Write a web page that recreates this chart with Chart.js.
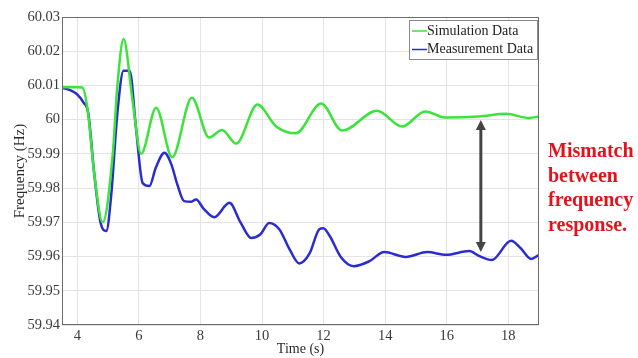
<!DOCTYPE html>
<html>
<head>
<meta charset="utf-8">
<script src="https://cdn.jsdelivr.net/npm/chart.js@4.4.1/dist/chart.umd.min.js"></script>
<style>
  html, body { margin: 0; padding: 0; background: #fff; }
  #wrap { position: relative; width: 638px; height: 358px; }
  #note {
    position: absolute; left: 548px; top: 138px;
    font: bold 20px 'Liberation Serif', 'Times New Roman', serif;
    line-height: 24.5px; color: #e3121c;
  }
</style>
</head>
<body>
<div id="wrap">
  <canvas id="chartCanvas" width="638" height="358"></canvas>
  <div id="note">Mismatch<br>between<br>frequency<br>response.</div>
</div>
<script>
// values
let simTime = [3.5, 4.0, 4.16, 4.33, 4.55, 4.82, 5.15, 5.3, 5.5, 5.8, 6.07, 6.56, 7.08, 7.72, 8.28, 8.7, 9.16, 9.85, 10.46, 11.1, 11.92, 12.6, 13.74, 14.55, 15.3, 15.98, 17.05, 17.93, 18.67, 19.0];
let simFreq = [60.0095, 60.0095, 60.0094, 60.003, 59.984, 59.970, 59.990, 60.010, 60.0236, 60.005, 59.990, 60.0035, 59.989, 60.0064, 59.9948, 59.997, 59.993, 60.0044, 59.998, 59.996, 60.0047, 59.9968, 60.0026, 59.998, 60.0024, 60.0006, 60.0009, 60.0017, 60.0005, 60.0009];

let measTime = [3.5, 3.8, 4.0, 4.2, 4.35, 4.55, 4.75, 4.94, 5.1, 5.3, 5.5, 5.7, 5.9, 6.12, 6.34, 6.55, 6.83, 7.05, 7.25, 7.47, 7.7, 7.86, 8.1, 8.45, 8.94, 9.3, 9.65, 9.95, 10.23, 10.56, 10.9, 11.21, 11.55, 11.86, 11.99, 12.2, 12.56, 12.98, 13.48, 13.97, 14.67, 15.37, 15.98, 16.73, 17.05, 17.47, 18.09, 18.4, 18.74, 19.0];
let measFreq = [60.0093, 60.0085, 60.0073, 60.005, 60.002, 59.984, 59.970, 59.9675, 59.978, 60.002, 60.0143, 60.0143, 59.998, 59.9815, 59.9806, 59.986, 59.9903, 59.987, 59.981, 59.9762, 59.976, 59.9767, 59.974, 59.9715, 59.9757, 59.970, 59.9654, 59.9665, 59.9698, 59.968, 59.962, 59.958, 59.961, 59.968, 59.9683, 59.966, 59.9599, 59.9572, 59.9586, 59.9613, 59.9599, 59.9613, 59.9605, 59.9616, 59.9602, 59.959, 59.9646, 59.9625, 59.9593, 59.9605];

let xTicks = [4, 6, 8, 10, 12, 14, 16, 18];
let yTicks = [59.94, 59.95, 59.96, 59.97, 59.98, 59.99, 60, 60.01, 60.02, 60.03];

// mismatch arrow (time, top freq, bottom freq)
let arrowTime = 17.11;
let arrowTop = 59.9999;
let arrowBottom = 59.9613;

const serif = "'Liberation Serif', 'Times New Roman', serif";

function toPoints(xs, ys) {
    return xs.map((x, i) => ({ x: x, y: ys[i] }));
}

let extras = {
    id: 'extras',
    afterDatasetsDraw(chart) {
        const ctx = chart.ctx;
        const a = chart.chartArea;
        const xs = chart.scales.x;
        const ys = chart.scales.y;

        // box round the plot
        ctx.save();
        ctx.strokeStyle = '#6b6b6b';
        ctx.lineWidth = 1;
        ctx.strokeRect(a.left + 0.5, a.top + 0.5, a.right - a.left - 1, a.bottom - a.top - 1);

        // double arrow
        let ax = xs.getPixelForValue(arrowTime);
        let y1 = ys.getPixelForValue(arrowTop);
        let y2 = ys.getPixelForValue(arrowBottom);
        ctx.strokeStyle = '#444';
        ctx.fillStyle = '#444';
        ctx.lineWidth = 3;
        ctx.beginPath();
        ctx.moveTo(ax, y1 + 8);
        ctx.lineTo(ax, y2 - 8);
        ctx.stroke();
        ctx.beginPath();
        ctx.moveTo(ax, y1);
        ctx.lineTo(ax - 5, y1 + 10);
        ctx.lineTo(ax + 5, y1 + 10);
        ctx.closePath();
        ctx.fill();
        ctx.beginPath();
        ctx.moveTo(ax, y2);
        ctx.lineTo(ax - 5, y2 - 10);
        ctx.lineTo(ax + 5, y2 - 10);
        ctx.closePath();
        ctx.fill();

        // legend in the top right corner
        let lx = a.right - 130, ly = a.top + 3, lw = 128, lh = 39;
        ctx.fillStyle = '#fff';
        ctx.fillRect(lx, ly, lw, lh);
        ctx.strokeStyle = '#8a8a8a';
        ctx.lineWidth = 1;
        ctx.strokeRect(lx + 0.5, ly + 0.5, lw, lh);
        ctx.font = '14px ' + serif;
        ctx.textBaseline = 'middle';
        chart.data.datasets.forEach((ds, i) => {
            let yy = ly + 11 + i * 18.5;
            ctx.strokeStyle = ds.borderColor;
            ctx.lineWidth = 1.5;
            ctx.beginPath();
            ctx.moveTo(lx + 3, yy);
            ctx.lineTo(lx + 18, yy);
            ctx.stroke();
            ctx.fillStyle = '#222';
            ctx.fillText(ds.label, lx + 18, yy);
        });
        ctx.restore();
    }
};

window.chart = new Chart('chartCanvas', {
    type: 'line',
    data: {
        datasets: [
            { label: 'Simulation Data', data: toPoints(simTime, simFreq), borderColor: '#3be33b', borderWidth: 2.5, pointRadius: 0, cubicInterpolationMode: 'monotone' },
            { label: 'Measurement Data', data: toPoints(measTime, measFreq), borderColor: '#2b2bd0', borderWidth: 2.5, pointRadius: 0, cubicInterpolationMode: 'monotone' }
        ]
    },
    options: {
        responsive: false,
        animation: false,
        layout: { padding: { left: 0, top: 17, right: 99, bottom: 0 } },
        plugins: {
            legend: { display: false },
            tooltip: { enabled: false }
        },
        scales: {
            x: {
                type: 'linear', min: 3.5, max: 19,
                afterBuildTicks: (s) => { s.ticks = xTicks.map(v => ({ value: v })); },
                afterFit: (s) => { s.height = 33; },
                ticks: { color: '#3a3a3a', font: { family: serif, size: 14.5 }, padding: 2, maxRotation: 0 },
                grid: { color: '#e4e4e4', drawTicks: false },
                border: { display: false },
                title: { display: true, text: 'Time (s)', color: '#2a2a2a', font: { family: serif, size: 14 }, padding: { top: 0, bottom: 0 } }
            },
            y: {
                min: 59.94, max: 60.03,
                afterBuildTicks: (s) => { s.ticks = yTicks.map(v => ({ value: v })); },
                afterFit: (s) => { s.width = 62; },
                ticks: {
                    color: '#3a3a3a', font: { family: serif, size: 14.5 }, padding: 2,
                    callback: (v) => String(Number(v.toFixed(2)))
                },
                grid: { color: '#e4e4e4', drawTicks: false },
                border: { display: false },
                title: { display: true, text: 'Frequency (Hz)', color: '#2a2a2a', font: { family: serif, size: 15 }, padding: { top: 11, bottom: 0 } }
            }
        }
    },
    plugins: [extras]
});
</script>
</body>
</html>
